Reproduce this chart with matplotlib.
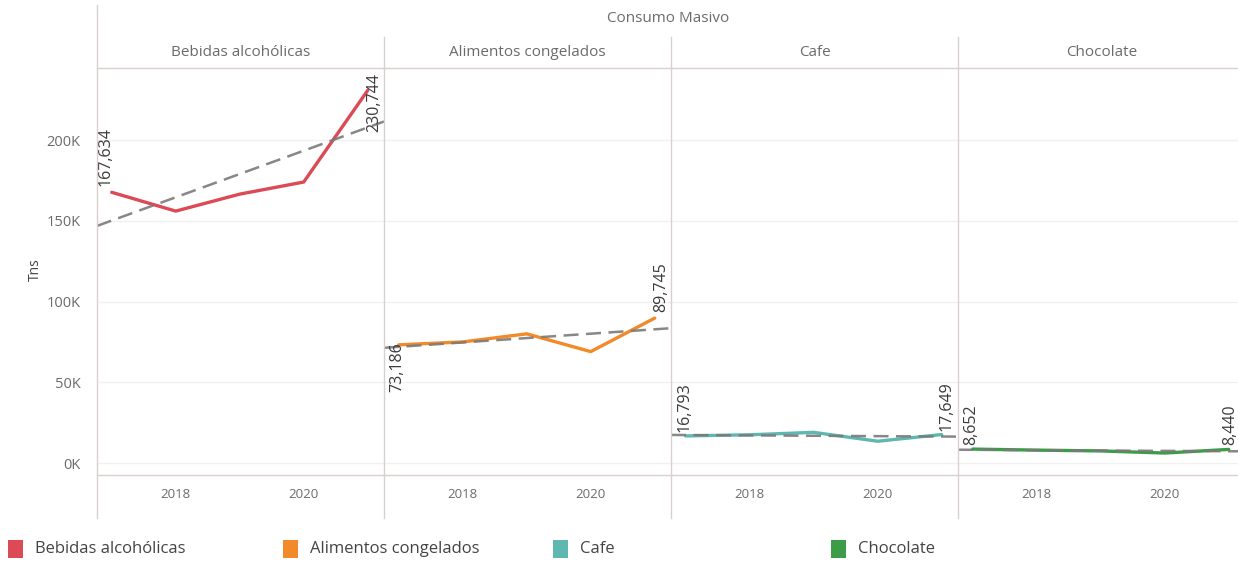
import numpy as np
import matplotlib
matplotlib.use("Agg")
import matplotlib.pyplot as plt
from matplotlib.lines import Line2D
from matplotlib.patches import Rectangle

plt.rcParams['font.family'] = ['Open Sans', 'DejaVu Sans']

# data
years = [2017, 2018, 2019, 2020, 2021]
categories = ["Bebidas alcohólicas", "Alimentos congelados", "Cafe", "Chocolate"]
bebidas = [167634, 156000, 166500, 174000, 230744]
alimentos = [73186, 75000, 80000, 69000, 89745]
cafe = [16793, 17500, 19000, 13500, 17649]
chocolate = [8652, 8000, 7500, 6200, 8440]
series = [bebidas, alimentos, cafe, chocolate]
colors = ["#dc4a55", "#f28a2a", "#5fb8b0", "#3c9c48"]
y_ticks = [0, 50000, 100000, 150000, 200000]
y_ticklabels = ["0K", "50K", "100K", "150K", "200K"]
x_ticks = [2018, 2020]

W, H = 1238, 565
fig = plt.figure(figsize=(W / 100, H / 100), dpi=100)
fig.patch.set_facecolor("white")

left_px, top_px, bot_px = 97, 68, 475
pw = 287
line_c = "#d8d0cc"
txt_c = "#6b6b6b"

# label placement per panel: (first va, first offset), (last va, last offset)
lab_style = [
    (("bottom", (-6, 6)), ("center", (7, -12))),
    (("top", (-1, 3)), ("bottom", (7, 6))),
    (("bottom", (-1, 4)), ("bottom", (5, 4))),
    (("bottom", (-1, 4)), ("bottom", (2, 4))),
]

for i, (cat, vals, col) in enumerate(zip(categories, series, colors)):
    x0 = left_px + i * pw
    ax = fig.add_axes([x0 / W, 1 - bot_px / H, pw / W, (bot_px - top_px) / H])
    ax.set_xlim(2016.77, 2016.77 + pw / 64)
    ax.set_ylim(-7400, 244600)
    for y in y_ticks:
        ax.axhline(y, color="#f1f1f1", lw=1, zorder=0)
    ax.plot(years, vals, color=col, lw=2.4, zorder=2, solid_capstyle="round")
    # linear trend line across the pane
    k, b = np.polyfit(years, vals, 1)
    xs = np.array(ax.get_xlim())
    ax.plot(xs, k * xs + b, color="#7a7a7a", lw=1.8, ls=(0, (6, 3)), alpha=0.9, zorder=3)
    # end labels
    for j, (va, off) in zip([0, -1], lab_style[i]):
        ax.annotate(f"{vals[j]:,}", (years[j], vals[j]), xytext=off,
                    textcoords="offset pixels", rotation=90, ha="center", va=va,
                    fontsize=11.5, color="#3a3a3a", zorder=4)
    for s in ["left", "right"]:
        ax.spines[s].set_visible(False)
    for s in ["top", "bottom"]:
        ax.spines[s].set_color(line_c)
        ax.spines[s].set_linewidth(1)
    ax.set_xticks(x_ticks)
    ax.set_xticklabels([str(t) for t in x_ticks], fontsize=9.5, color=txt_c)
    ax.tick_params(axis="x", length=0, pad=9)
    if i == 0:
        ax.set_yticks(y_ticks)
        ax.set_yticklabels(y_ticklabels, fontsize=10.5, color=txt_c)
        ax.tick_params(axis="y", length=0, pad=12)
    else:
        ax.set_yticks([])
    fig.text((x0 + pw / 2) / W, 1 - 52 / H, cat, ha="center", va="center",
             fontsize=11, color=txt_c)
    # pane divider lines
    ytop = 5 if i == 0 else 37
    fig.add_artist(Line2D([x0 / W, x0 / W], [1 - ytop / H, 1 - 518 / H],
                          color=line_c, lw=1))

fig.text(668 / W, 1 - 19 / H, "Consumo Masivo", ha="center",
         va="center", fontsize=11, color=txt_c)
fig.text(35 / W, 1 - 270 / H, "Tns", rotation=90, ha="center", va="center",
         fontsize=10, color="#444444")

# legend
leg_x = [8, 283, 553, 831]
for lx, cat, col in zip(leg_x, categories, colors):
    fig.add_artist(Rectangle((lx / W, 1 - 558 / H), 15 / W, 18 / H,
                             transform=fig.transFigure, facecolor=col,
                             edgecolor="none"))
    fig.text((lx + 27) / W, 1 - 549 / H, cat, ha="left", va="center",
             fontsize=12, color="#444444")

fig.savefig("out.png", dpi=100, facecolor="white")
